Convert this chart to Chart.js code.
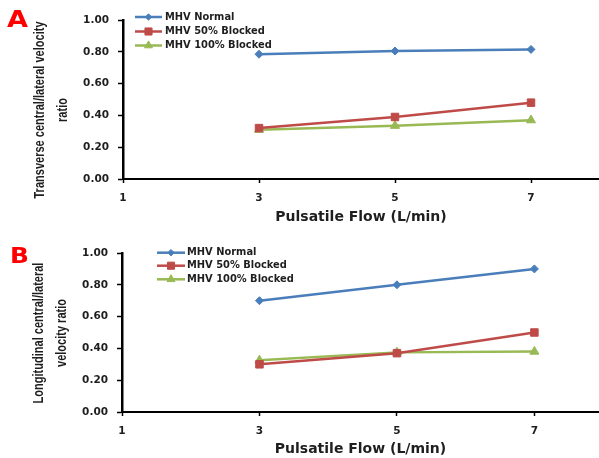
<!DOCTYPE html>
<html><head><meta charset="utf-8">
<script src="https://cdn.jsdelivr.net/npm/chart.js@4/dist/chart.umd.min.js"></script>
<style>
html,body{margin:0;padding:0;background:#fff;width:599px;height:458px;overflow:hidden;position:relative;}
#wrapA{position:absolute;left:0;top:0;width:599px;height:236px;}
#wrapB{position:absolute;left:0;top:220px;width:599px;height:238px;}
canvas{display:block;}
</style></head><body>
<div id="wrapA"><canvas id="chartA" width="599" height="236"></canvas></div>
<div id="wrapB"><canvas id="chartB" width="599" height="238"></canvas></div>
<script>
// ---- data ----
const flowRates = [3, 5, 7];
const xTickValues = [1, 3, 5, 7];
const yTickLabels = ['0.00', '0.20', '0.40', '0.60', '0.80', '1.00'];
const seriesNames = ['MHV Normal', 'MHV 50% Blocked', 'MHV 100% Blocked'];
const transverseNormal = [0.785, 0.805, 0.815];
const transverse50 = [0.32, 0.39, 0.48];
const transverse100 = [0.31, 0.335, 0.37];
const longitudinalNormal = [0.70, 0.80, 0.90];
const longitudinal50 = [0.30, 0.37, 0.50];
const longitudinal100 = [0.325, 0.375, 0.38];
const xTitle = 'Pulsatile Flow (L/min)';
const yTitleA = ['Transverse central/lateral velocity', 'ratio'];
const yTitleB = ['Longitudinal central/lateral', 'velocity ratio'];
const panelLetterA = 'A';
const panelLetterB = 'B';

// ---- styles ----
const colors = ['#4A7EBB', '#BE4B48', '#98B954'];
const pointStyles = ['rectRot', 'rect', 'triangle'];
const pointRadii = [4, 5.3, 5.2];
const legendRadii = [3.2, 5, 4.6];
const textColor = '#1e1e1e';
const tickFont = {family: '"DejaVu Sans", Verdana, sans-serif', size: 10.5, weight: 'bold'};

function buildDatasets(seriesList) {
  return seriesList.map((vals, i) => ({
    label: seriesNames[i],
    data: flowRates.map((x, k) => ({x: x, y: vals[k]})),
    borderColor: colors[i],
    backgroundColor: colors[i],
    borderWidth: 2.5,
    pointStyle: pointStyles[i],
    pointRadius: pointRadii[i],
    pointBorderWidth: 1,
    pointBorderColor: colors[i],
    pointBackgroundColor: colors[i],
    tension: 0,
    clip: false
  }));
}

const decorPlugin = {
  id: 'decor',
  afterDraw(chart, args, opts) {
    const ctx = chart.ctx;
    ctx.save();
    // panel letter
    ctx.save();
    ctx.fillStyle = '#FF0000';
    ctx.font = 'bold ' + opts.letterSize + 'px "DejaVu Sans", sans-serif';
    ctx.textBaseline = 'alphabetic';
    ctx.textAlign = 'left';
    ctx.translate(opts.letterX, opts.letterY);
    ctx.scale(1.18, 1);
    ctx.fillText(opts.letter, 0, 0);
    ctx.restore();
    // rotated y title (two lines)
    ctx.fillStyle = textColor;
    ctx.font = 'bold 14.5px "Liberation Sans", Arial, sans-serif';
    ctx.textAlign = 'center';
    ctx.textBaseline = 'middle';
    opts.yTitle.forEach((line, i) => {
      ctx.save();
      ctx.translate(opts.yTitleX[i], opts.yTitleY);
      ctx.rotate(-Math.PI / 2);
      ctx.scale(0.76, 1);
      ctx.fillText(line, 0, 0);
      ctx.restore();
    });
    // legend
    const lg = opts.legend;
    chart.data.datasets.forEach((ds, i) => {
      const y = lg.rows[i];
      ctx.strokeStyle = ds.borderColor;
      ctx.lineWidth = 2.5;
      ctx.beginPath();
      ctx.moveTo(lg.x0, y);
      ctx.lineTo(lg.x1, y);
      ctx.stroke();
      ctx.fillStyle = ds.backgroundColor;
      ctx.lineWidth = 1;
      Chart.helpers.drawPoint(ctx, {pointStyle: ds.pointStyle, rotation: 0, radius: legendRadii[i], borderWidth: 1}, (lg.x0 + lg.x1) / 2, y);
      ctx.fillStyle = textColor;
      ctx.font = 'bold 9.9px "DejaVu Sans", Verdana, sans-serif';
      ctx.textAlign = 'left';
      ctx.textBaseline = 'middle';
      ctx.fillText(ds.label, lg.textX, y);
    });
    ctx.restore();
  }
};

function makeChart(id, seriesList, geo, decor) {
  return new Chart(document.getElementById(id), {
    type: 'line',
    data: {datasets: buildDatasets(seriesList)},
    plugins: [decorPlugin],
    options: {
      responsive: false,
      animation: false,
      events: [],
      layout: {autoPadding: false, padding: {left: 0, right: 0, top: geo.padTop, bottom: 0}},
      plugins: {legend: {display: false}, tooltip: {enabled: false}, decor: decor},
      scales: {
        x: {
          type: 'linear',
          min: 1,
          max: geo.xMax,
          afterBuildTicks: s => { s.ticks = xTickValues.map(v => ({value: v})); },
          afterFit: s => { s.height = geo.xHeight; s.paddingLeft = 0; s.paddingRight = 0; },
          ticks: {
            color: textColor, font: tickFont, padding: geo.xTickPad,
            callback: v => String(v), maxRotation: 0, autoSkip: false
          },
          grid: {display: true, drawOnChartArea: false, drawTicks: true, tickLength: 4, tickColor: '#000', tickWidth: 1.5},
          border: {display: true, color: '#000', width: 2},
          title: {display: true, text: xTitle, color: textColor,
                  font: {family: '"DejaVu Sans", Verdana, sans-serif', size: 14, weight: 'bold'},
                  padding: {top: 0, bottom: geo.xTitlePad}}
        },
        y: {
          min: 0, max: 1,
          afterFit: s => { s.width = geo.yWidth; s.paddingTop = 0; s.paddingBottom = 0; },
          ticks: {
            stepSize: 0.2, color: textColor, font: tickFont, padding: 9,
            callback: v => yTickLabels[Math.round(v / 0.2)]
          },
          grid: {display: true, drawOnChartArea: false, drawTicks: true, tickLength: 5, tickColor: '#000', tickWidth: 1.5},
          border: {display: true, color: '#000', width: 2.5}
        }
      }
    }
  });
}

makeChart('chartA', [transverseNormal, transverse50, transverse100],
  {padTop: 20, xHeight: 57, xMax: 8, xTickPad: 9, xTitlePad: 10, yWidth: 123},
  {letter: panelLetterA, letterSize: 23, letterX: 7, letterY: 27,
   yTitle: yTitleA, yTitleX: [40, 63], yTitleY: 110,
   legend: {x0: 135, x1: 162, textX: 165, rows: [17, 31.5, 45.5]}});

makeChart('chartB', [longitudinalNormal, longitudinal50, longitudinal100],
  {padTop: 33, xHeight: 46, xMax: 7.94, xTickPad: 9, xTitlePad: 0, yWidth: 122},
  {letter: panelLetterB, letterSize: 21, letterX: 10, letterY: 43,
   yTitle: yTitleB, yTitleX: [39, 62], yTitleY: 113,
   legend: {x0: 157, x1: 185, textX: 187, rows: [32.7, 45.7, 59.3]}});
</script>
</body></html>
